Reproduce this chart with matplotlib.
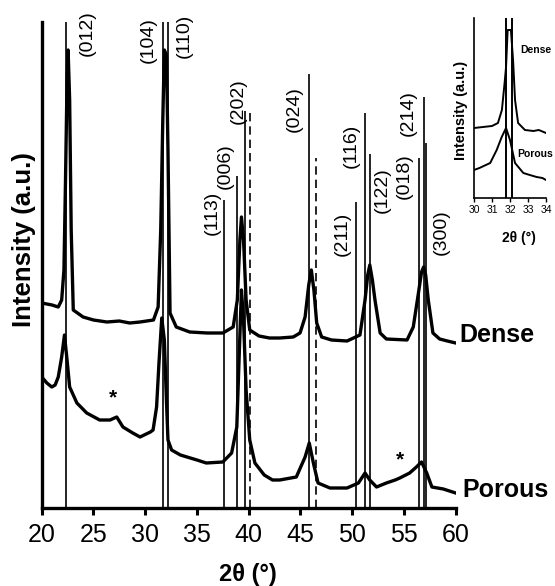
import matplotlib
matplotlib.use("Agg")
import matplotlib.pyplot as plt

plt.rcParams['font.family'] = ['Liberation Sans', 'DejaVu Sans']

# ---------------- data ----------------
dense_2theta = [20.0, 21.0, 21.6, 21.93, 22.15, 22.3, 22.45, 22.55, 22.7, 22.85, 23.05, 24.0, 25.0,
                26.3, 27.5, 28.5, 29.5, 30.8, 31.25, 31.5, 31.7, 31.85, 32.05, 32.2, 32.4, 33.0,
                34.3, 36.0, 37.5, 38.5, 38.9, 39.15, 39.3, 39.5, 39.75, 40.1, 41.0, 42.0, 43.0,
                44.3, 44.96, 45.45, 45.8, 46.05, 46.3, 46.57, 47.05, 48.0, 49.5, 50.75, 51.24,
                51.5, 51.7, 51.95, 52.2, 52.7, 53.3, 55.3, 55.9, 56.4, 56.7, 56.9, 57.1, 57.35,
                57.8, 58.45, 59.2, 60.0]
dense_int = [205, 203, 201, 208, 238, 328, 428, 458, 408, 278, 198, 191, 188,
             186, 187, 185, 186, 188, 201, 278, 388, 458, 453, 358, 195, 181,
             176, 175, 175, 181, 208, 268, 291, 268, 208, 178, 172, 170, 170,
             171, 175, 191, 223, 238, 218, 185, 171, 168, 167, 173, 208,
             233, 243, 228, 208, 175, 169, 168, 181, 215, 236, 241, 233, 208,
             175, 169, 167, 165]

porous_2theta = [20.0, 20.5, 20.97, 21.3, 21.6, 21.93, 22.2, 22.45, 22.7, 23.4, 24.35, 25.6, 26.6,
                 27.25, 27.85, 28.8, 29.5, 30.5, 30.76, 31.1, 31.33, 31.6, 31.85, 32.05, 32.2,
                 32.55, 33.4, 35.0, 35.9, 37.5, 38.35, 38.85, 39.1, 39.3, 39.5, 39.75, 40.1, 40.6,
                 41.5, 42.3, 43.0, 44.6, 45.45, 45.85, 46.25, 46.7, 47.85, 49.5, 50.6, 51.24, 51.7,
                 52.35, 53.3, 54.15, 54.6, 55.55, 56.2, 56.7, 57.2, 57.7, 58.8, 60.0]
porous_int = [131, 125, 121, 123, 131, 151, 173, 148, 121, 105, 95, 88, 88,
              91, 81, 75, 71, 76, 78, 101, 145, 190, 168, 108, 68,
              58, 53, 48, 45, 46, 55, 81, 158, 218, 188, 118, 68, 45,
              33, 28, 28, 31, 51, 65, 45, 25, 20, 20, 25, 35, 28,
              21, 25, 28, 30, 35, 41, 46, 35, 21, 19, 15]

ref_pos = [22.35, 31.75, 32.2, 37.65, 38.9, 39.6, 45.8, 50.4, 51.2, 51.7, 56.45, 56.95, 57.15]
ref_height = [486, 486, 486, 308, 332, 397, 434, 306, 395, 354, 350, 411, 365]
ref_labels = ['(012)', '(104)', '(110)', '(113)', '(006)', '(202)', '(024)', '(211)',
              '(116)', '(122)', '(018)', '(214)', '(300)']
label_x = [24.4, 30.3, 33.75, 36.5, 37.7, 39.0, 44.4, 49.0, 49.9, 52.9, 55.0, 55.4, 58.6]
label_y = [475, 468, 472, 295, 342, 407, 399, 274, 362, 318, 332, 395, 276]

dashed_pos = [40.1, 46.5]
dashed_height = [395, 350]

star_pos = [26.9, 54.6]
star_int = [110, 48]

x_ticks = [20, 25, 30, 35, 40, 45, 50, 55, 60]

inset_dense_2theta = [30.0, 30.5, 31.0, 31.33, 31.55, 31.7, 31.78, 31.87, 32.05, 32.17, 32.28, 32.45,
                      32.83, 33.3, 33.6, 34.0]
inset_dense_int = [70, 71, 72, 75, 88, 115, 131, 168, 168, 138, 98, 75, 68, 67, 68, 65]
inset_porous_2theta = [30.0, 30.3, 30.9, 31.26, 31.54, 31.78, 32.0, 32.28, 32.74, 33.1, 33.48, 33.8, 34.0]
inset_porous_int = [28, 30, 35, 48, 61, 70, 58, 35, 25, 23, 21, 20, 18]
inset_ref_pos = [31.76, 32.09]
inset_ticks = [30, 31, 32, 33, 34]

# ---------------- figure ----------------
W, H = 555, 586
fig = plt.figure(figsize=(W / 100, H / 100), dpi=100)

def box(l, t, r, b):
    return [l / W, 1 - b / H, (r - l) / W, (b - t) / H]

ax = fig.add_axes(box(41.7, 22, 455.7, 508))
ax.set_xlim(20, 60)
ax.set_ylim(0, 486)

for p, h in zip(ref_pos, ref_height):
    ax.plot([p, p], [0, h], color='black', lw=1.2, solid_capstyle='butt', zorder=2)
for p, h in zip(dashed_pos, dashed_height):
    ax.plot([p, p], [0, h], color='black', lw=1.2, linestyle=(0, (5, 3)), zorder=2)

ax.plot(dense_2theta, dense_int, color='black', lw=2.4, zorder=3, solid_joinstyle='round')
ax.plot(porous_2theta, porous_int, color='black', lw=2.4, zorder=3, solid_joinstyle='round')

for lab, lx, ly in zip(ref_labels, label_x, label_y):
    ax.text(lx, ly, lab, rotation=90, ha='center', va='center', fontsize=14)

for sx, sy in zip(star_pos, star_int):
    ax.text(sx, sy, '*', ha='center', va='center', fontsize=15, fontweight='bold')

ax.text(60.4, 173, 'Dense', ha='left', va='center', fontsize=18, fontweight='bold', clip_on=False)
ax.text(60.6, 18, 'Porous', ha='left', va='center', fontsize=18, fontweight='bold', clip_on=False)

for s in ['top', 'right']:
    ax.spines[s].set_visible(False)
for s in ['left', 'bottom']:
    ax.spines[s].set_linewidth(2.4)
ax.set_yticks([])
ax.set_xticks(x_ticks)
ax.tick_params(axis='x', direction='out', length=5, width=2.2, labelsize=18, pad=6)

fig.text(248 / W, 1 - 575 / H, '2θ (°)', ha='center', va='center', fontsize=17, fontweight='bold')
fig.text(24 / W, 1 - 240 / H, 'Intensity (a.u.)', rotation=90, ha='center', va='center',
         fontsize=18.5, fontweight='bold')

# ---------------- inset ----------------
ins = fig.add_axes(box(474, 18, 546, 198))
ins.set_xlim(30, 34)
ins.set_ylim(0, 180)
for p in inset_ref_pos:
    ins.plot([p, p], [0, 180], color='black', lw=1.4, zorder=2)
ins.plot(inset_dense_2theta, inset_dense_int, color='black', lw=1.4, zorder=3)
ins.plot(inset_porous_2theta, inset_porous_int, color='black', lw=1.4, zorder=3)
for s in ['top', 'right']:
    ins.spines[s].set_visible(False)
for s in ['left', 'bottom']:
    ins.spines[s].set_linewidth(1.2)
ins.set_yticks([])
ins.set_xticks(inset_ticks)
ins.tick_params(axis='x', direction='out', length=3, width=1.0, labelsize=7.5, pad=2)
ins.text(32.55, 148, 'Dense', ha='left', va='center', fontsize=7.5, fontweight='bold', clip_on=False)
ins.text(32.4, 44, 'Porous', ha='left', va='center', fontsize=7.5, fontweight='bold', clip_on=False)
fig.text(519 / W, 1 - 238 / H, '2θ (°)', ha='center', va='center', fontsize=10, fontweight='bold')
fig.text(461 / W, 1 - 110 / H, 'Intensity (a.u.)', rotation=90, ha='center', va='center',
         fontsize=10.5, fontweight='bold')

fig.savefig('out.png', dpi=100)
